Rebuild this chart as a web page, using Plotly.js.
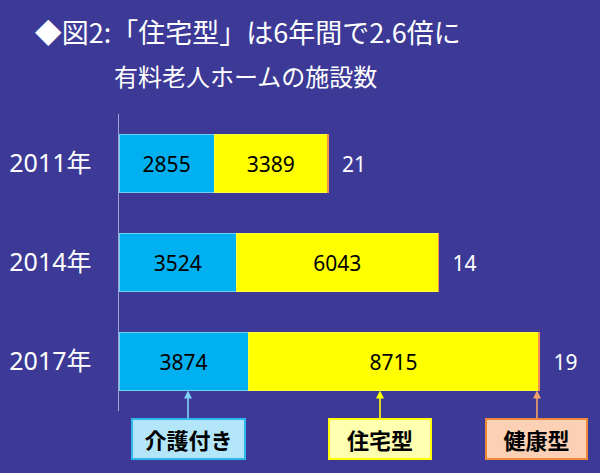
<!DOCTYPE html>
<html>
<head>
<meta charset="utf-8">
<script src="https://cdn.plot.ly/plotly-3.0.1.min.js"></script>
<style>html,body{margin:0;padding:0;background:#3c3a96;}#chart{width:600px;height:473px;}</style>
</head>
<body>
<div id="chart"></div>
<script>
const years = ['2011年', '2014年', '2017年'];
const kaigo = [2855, 3524, 3874];      // 介護付き
const jutaku = [3389, 6043, 8715];     // 住宅型
const kenko = [21, 14, 19];            // 健康型
const seriesNames = ['介護付き', '住宅型', '健康型'];

const BG = '#3c3a96';
const FONT = 'Noto Sans, Noto Sans CJK JP, sans-serif';
const JFONT = 'Noto Sans CJK JP, sans-serif';

const traces = [
  {
    type: 'bar', orientation: 'h', name: seriesNames[0],
    y: years, x: kaigo, text: kaigo.map(String),
    textposition: 'inside', insidetextanchor: 'middle', constraintext: 'none',
    textfont: {family: FONT, size: 21, color: '#000000'},
    marker: {color: '#00b0f0', line: {color: '#6fd0f6', width: 1}},
    hoverinfo: 'none'
  },
  {
    type: 'bar', orientation: 'h', name: seriesNames[1],
    y: years, x: jutaku, text: jutaku.map(String),
    textposition: 'inside', insidetextanchor: 'middle', constraintext: 'none',
    textfont: {family: FONT, size: 21, color: '#000000'},
    marker: {color: '#ffff00', line: {color: '#ffff40', width: 1}},
    hoverinfo: 'none'
  },
  {
    type: 'bar', orientation: 'h', name: seriesNames[2],
    y: years, x: kenko, text: kenko.map(v => '\u00a0\u00a0' + v),
    textposition: 'outside', constraintext: 'none', cliponaxis: false,
    textfont: {family: FONT, size: 21, color: '#ffffff'},
    marker: {color: '#f4924a', line: {color: '#f4924a', width: 1}},
    hoverinfo: 'none'
  }
];

function legendBox(label, xPaper, bg, border, arrowColor, w) {
  return {
    xref: 'paper', yref: 'paper', x: xPaper, y: 0.069,
    text: '<b>' + label + '</b>', showarrow: true,
    ax: 0, ay: 48, arrowhead: 2, arrowsize: 1, arrowwidth: 1.6, arrowcolor: arrowColor,
    font: {family: JFONT, size: 22, color: '#000000'},
    bgcolor: bg, bordercolor: border, borderwidth: 2, borderpad: 1,
    width: w, height: 36, align: 'center', valign: 'middle'
  };
}

const layout = {
  width: 600, height: 473,
  paper_bgcolor: BG, plot_bgcolor: BG,
  margin: {l: 119, r: 0, t: 114, b: 62, pad: 0},
  barmode: 'stack', bargap: 0.414, showlegend: false,
  title: {
    text: '◆図2:「住宅型」は6年間で2.6倍に',
    font: {family: JFONT, size: 27, color: '#ffffff'},
    xref: 'container', yref: 'container', x: 0.413, y: 0.93,
    xanchor: 'center', yanchor: 'middle'
  },
  xaxis: {
    range: [0, 14418], showgrid: false, zeroline: false, showline: false,
    showticklabels: false, ticks: '', fixedrange: true
  },
  yaxis: {
    type: 'category', autorange: 'reversed', showgrid: false, zeroline: false,
    showline: true, linecolor: '#a3a3d6', linewidth: 1.5,
    ticks: '', ticklabelstandoff: 21,
    tickfont: {family: FONT, size: 25, color: '#ffffff'}, fixedrange: true
  },
  annotations: [
    {
      xref: 'paper', yref: 'paper', x: 0.262, y: 1.128,
      text: '有料老人ホームの施設数', showarrow: false,
      font: {family: JFONT, size: 24, color: '#ffffff'},
      xanchor: 'center', yanchor: 'middle'
    },
    legendBox(seriesNames[0], 0.1435, '#b4e6fa', '#2fb8f0', '#7fd2f6', 109),
    legendBox(seriesNames[1], 0.5426, '#ffffb0', '#ffff00', '#ffff00', 98),
    legendBox(seriesNames[2], 0.869, '#fbd0b4', '#f0883a', '#f4a068', 97)
  ]
};

Plotly.newPlot('chart', traces, layout, {staticPlot: true, displayModeBar: false});
</script>
</body>
</html>
